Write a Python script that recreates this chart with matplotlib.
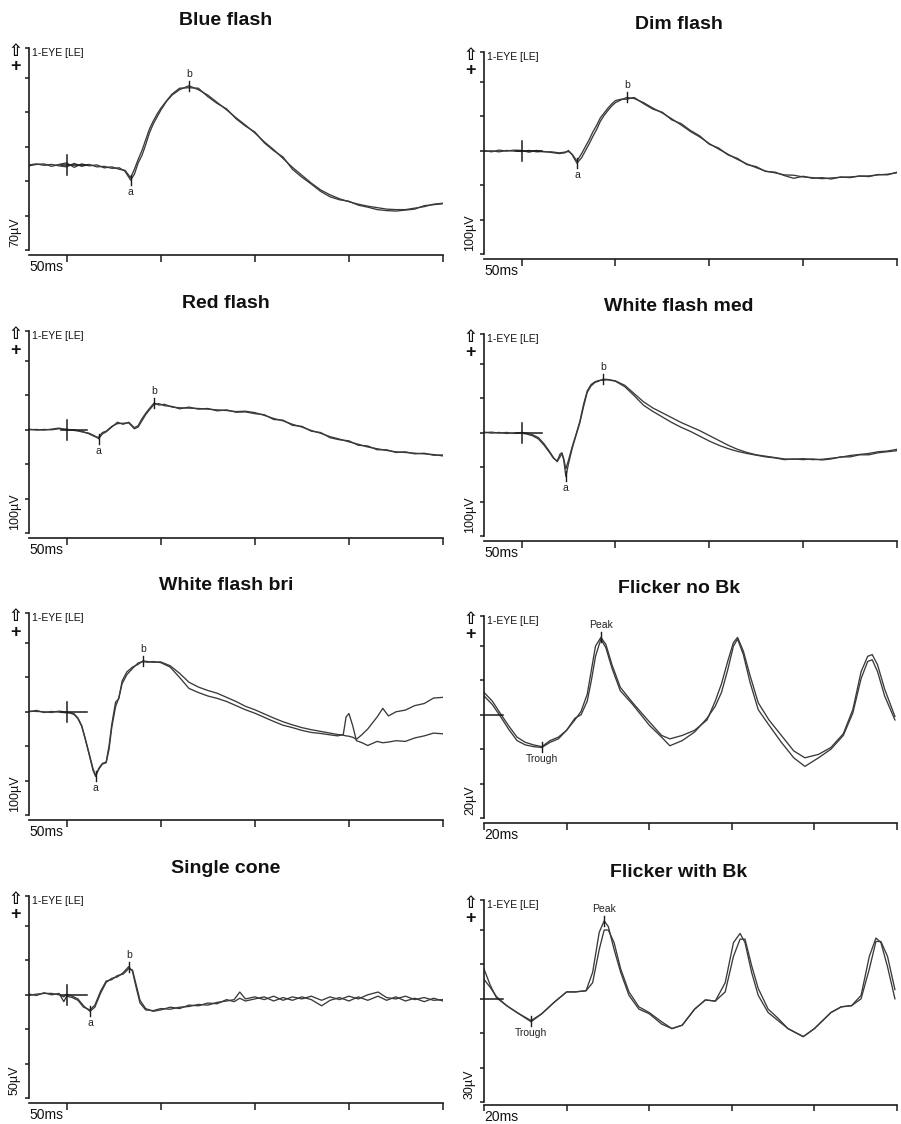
import numpy as np
import matplotlib.pyplot as plt

plt.rcParams['font.family'] = ['Liberation Sans', 'DejaVu Sans']

# ---- values (ms, uV relative to baseline) ----
blue_t = [-20, -16, -12, -8, -4, 0, 4, 8, 12, 16, 20, 24, 28, 31, 34, 36, 38, 40, 42, 44, 46, 48, 50, 53, 56,
          60, 65, 70, 75, 80, 85, 90, 95, 100, 105, 110, 115, 120, 125, 130, 135, 140, 145, 150, 155, 160, 165,
          170, 175, 180, 185, 190, 195, 200]
blue_1 = [1, 3, 0, 2, -1, -3, 4, -2, 2, -3, -2, -6, -5, -12, -30, -18, 5, 20, 42, 66, 84, 98, 112, 130, 143,
          154, 162, 154, 143, 128, 113, 97, 82, 66, 48, 32, 14, -4, -20, -36, -50, -60, -68, -74, -79, -83, -86,
          -89, -90, -90, -87, -84, -79, -77]
blue_2 = [-1, 2, 3, -2, 2, 5, -4, 3, -1, 1, -5, -3, -8, -10, -25, -8, 12, 30, 52, 74, 90, 104, 116, 131, 145,
          157, 158, 157, 140, 126, 115, 95, 80, 68, 46, 30, 17, -8, -24, -38, -53, -64, -70, -73, -81, -85, -90,
          -92, -93, -91, -89, -82, -80, -78]

dim_t = [-20, -16, -12, -8, -4, 0, 4, 8, 12, 16, 20, 23, 25, 27, 29.5, 32, 34, 36, 38, 40, 42, 44, 46, 48, 50,
         53, 56, 60, 65, 70, 75, 80, 85, 90, 95, 100, 105, 110, 115, 120, 125, 130, 135, 140, 145, 150, 155, 160,
         165, 170, 175, 180, 185, 190, 195, 200]
dim_1 = [-2, 0, -3, 1, -1, -2, 1, -3, -2, -5, -8, -6, 1, -12, -36, -20, 0, 20, 42, 62, 86, 103, 117, 130, 140,
         148, 155, 152, 140, 124, 110, 93, 75, 56, 40, 21, 5, -10, -25, -38, -49, -59, -64, -70, -71, -76, -78, -81,
         -79, -77, -76, -74, -73, -70, -68, -64]
dim_2 = [1, -3, 2, -1, 2, 1, -4, 1, -3, -3, -6, -4, -2, -10, -30, -8, 12, 32, 55, 74, 96, 110, 124, 136, 146,
         150, 150, 155, 137, 121, 112, 90, 79, 59, 43, 19, 8, -12, -22, -40, -46, -60, -62, -72, -80, -74, -80, -78,
         -82, -76, -78, -73, -75, -69, -70, -62]

red_t = [-20, -16, -12, -8, -4, 0, 4, 8, 12, 15, 17, 19, 21, 24, 27, 30, 33, 36, 38, 40, 42, 44, 46.5, 49, 52,
         56, 60, 65, 70, 75, 80, 85, 90, 95, 100, 105, 110, 115, 120, 125, 130, 135, 140, 145, 150, 155, 160, 165,
         170, 175, 180, 185, 190, 195, 200]
red_1 = [0, 1, -1, 2, 5, -1, 0, -6, -10, -18, -26, -12, -6, 8, 22, 16, 22, 6, 12, 32, 48, 62, 78, 72, 74,
         66, 64, 63, 62, 60, 58, 56, 53, 54, 50, 42, 33, 26, 16, 8, -2, -10, -20, -27, -35, -42, -50, -55,
         -60, -64, -66, -68, -70, -72, -76]
red_2 = [2, -1, 1, 0, 3, 2, -2, -4, -12, -20, -22, -8, -4, 10, 18, 19, 20, 3, 8, 26, 44, 58, 74, 76, 70,
         68, 61, 66, 60, 62, 55, 58, 51, 52, 47, 44, 30, 28, 13, 10, -4, -8, -23, -29, -32, -45, -47, -58,
         -58, -66, -64, -70, -68, -74, -73]

wmed_t = [-20, -16, -12, -8, -4, 0, 3, 6, 9, 12, 15, 17, 19, 20.5, 21.5, 22.5, 23.6, 25, 27, 29, 31, 33, 35, 37,
          39, 41, 43.5, 46, 50, 55, 60, 65, 70, 75, 80, 85, 90, 95, 100, 105, 110, 115, 120, 125, 130, 135, 140,
          145, 150, 155, 160, 165, 170, 175, 180, 185, 190, 195, 200]
wmed_1 = [0, 2, -1, 1, -2, 1, -1, -6, -14, -32, -55, -72, -84, -70, -60, -80, -127, -90, -45, -8, 28, 75, 118,
          136, 146, 150, 156, 155, 151, 138, 114, 90, 72, 58, 44, 30, 18, 6, -8, -22, -36, -48, -57, -64, -68,
          -72, -76, -77, -75, -78, -77, -74, -71, -66, -63, -60, -55, -53, -48]
wmed_2 = [2, -1, 1, -2, 0, -1, -4, -9, -18, -36, -58, -74, -82, -62, -58, -76, -105, -80, -40, -5, 32, 82, 122,
          140, 148, 152, 153, 154, 150, 134, 108, 80, 62, 46, 30, 16, 4, -10, -24, -36, -46, -54, -60, -65, -70,
          -73, -78, -76, -78, -76, -79, -76, -70, -70, -64, -64, -58, -55, -52]

wbri_t = [-20, -16, -12, -8, -4, 0, 2, 4, 6, 8, 10, 12, 14, 15.4, 17, 19, 21, 22.5, 24, 26, 27.7, 29.5, 32, 35,
          38, 40.6, 43, 46, 50, 55, 60, 65, 70, 75, 80, 85, 90, 95, 100, 105, 110, 115, 120, 125, 130, 135, 140,
          144, 147, 148.5, 150, 152, 154, 157, 160, 165, 168, 171, 175, 180, 185, 190, 195, 200]
wbri_1 = [0, 4, -2, 1, -1, -3, -4, -8, -20, -42, -82, -125, -170, -188, -165, -150, -146, -100, -36, 28, 38, 90,
          116, 130, 138, 148, 146, 144, 145, 134, 112, 86, 72, 62, 54, 42, 30, 16, 6, -6, -18, -29, -38, -46, -52,
          -57, -62, -66, -68, -70, -71, -74, -80, -66, -50, -15, 10, -12, 0, 5, 18, 24, 40, 42]
wbri_2 = [2, 1, 0, -2, 2, -1, -2, -6, -18, -40, -80, -122, -165, -185, -168, -152, -148, -110, -45, 15, 40, 82,
          108, 126, 142, 146, 144, 146, 143, 130, 100, 68, 56, 46, 39, 30, 18, 6, -4, -16, -28, -39, -46, -54, -60,
          -63, -67, -70, -66, -15, -5, -40, -84, -90, -98, -86, -90, -88, -84, -86, -76, -70, -62, -64]

fnb_t = [0, 2, 4, 6, 8, 10, 12, 14, 16, 18, 20, 22, 23.5, 25, 26, 27, 28.3, 29.5, 31, 33, 36, 40, 43, 45, 48, 51,
         54, 56, 57.5, 59, 60.4, 61.4, 62.8, 64.4, 66.4, 69, 72, 75, 77.7, 81, 84, 87, 89.3, 91.3, 92.9, 94, 95.3,
         97, 99.5]
fnb_1 = [13, 8, 0.6, -6.5, -13, -16, -17.5, -18.5, -15, -13, -9, -3, 2, 12, 26, 40, 45, 41, 29, 16, 7, -4, -12,
         -14, -12, -9, -3, 8, 18, 31, 42, 45, 37, 23, 7, -3, -12, -21, -25, -23, -19, -11, 3, 25, 34, 35, 29, 15, -1]
fnb_2 = [11, 6, -1, -8.5, -15, -17.5, -18.5, -19, -16, -14, -9, -2, 0, 8, 20, 34, 44, 39, 27, 14, 6, -6, -13,
         -18, -15, -10, -2, 5, 13, 26, 40, 44, 35, 19, 3, -6, -16, -25, -30, -25, -20, -12, 1, 21, 31, 32, 25, 11, -3]

cone_t = [-20, -16, -12, -8, -4, -1.5, 0, 3, 6, 9, 12.4, 15, 18, 21, 24, 27, 30, 33, 35, 37, 39, 42, 46, 50, 55,
          60, 65, 70, 75, 80, 85, 89, 92, 95, 100, 105, 110, 115, 120, 125, 130, 135.5, 140, 145, 150, 155, 160,
          165.5, 170, 175, 180, 185, 190, 195, 200]
cone_1 = [-1, 1, 2, 2, 0, -3, 1, -2, -6, -16, -24, -18, 2, 18, 24, 26, 32, 41, 34, 10, -12, -22, -23, -20, -21,
          -18, -17, -14, -15, -11, -9, -7, 4, -6, -3, -7, -2, -8, -3, -6, -2, -8, -3, -7, -2, -6, 0, 4, -4, -6,
          -2, -7, -4, -8, -7]
cone_2 = [1, -1, 3, 0, 2, -10, -2, -4, -8, -18, -22, -15, 5, 20, 22, 28, 30, 38, 36, 14, -8, -20, -24, -22, -18,
          -20, -15, -16, -12, -13, -7, -10, -5, -9, -6, -3, -9, -4, -8, -3, -7, -16, -8, -4, -9, -3, -8, -2, -8,
          -3, -9, -5, -10, -5, -9]

fwb_t = [0, 1.5, 3, 5.5, 8, 11.4, 14, 17, 20, 22, 24.7, 26.3, 27.9, 29.1, 30.1, 31.5, 33.1, 35.1, 37.5, 40, 43,
         45.5, 48, 51, 53.6, 56, 58.4, 60.4, 62, 63.2, 64.8, 66.4, 68.8, 71.2, 73.6, 77.3, 80, 84, 86.5, 89, 91.3,
         93.3, 94.9, 96.1, 97.7, 99.5]
fwb_1 = [17, 10, 2, -6, -12, -19, -13, -3, 6, 6, 7, 23, 58, 68, 63, 43, 23, 3, -9, -13, -22, -26, -23, -9, -1,
         -2, 14, 49, 57, 49, 23, 3, -12, -19, -26, -33, -26, -12, -7, -6, 3, 37, 53, 49, 28, 0]
fwb_2 = [26, 12, 1, -6, -12, -20, -13, -3, 6, 6, 7, 14, 43, 60, 60, 49, 26, 6, -7, -12, -20, -26, -23, -9, -1,
         -2, 6, 37, 52, 52, 29, 9, -9, -17, -26, -33, -26, -12, -7, -6, 0, 26, 50, 50, 37, 8]

titles = ['Blue flash', 'Dim flash', 'Red flash', 'White flash med',
          'White flash bri', 'Flicker no Bk', 'Single cone', 'Flicker with Bk']
scales = [70, 100, 100, 100, 100, 20, 50, 30]          # uV per division
time_units = [50, 50, 50, 50, 50, 20, 50, 20]          # ms per division
marks = [[('a', 34), ('b', 65)], [('a', 29.5), ('b', 56)], [('a', 17), ('b', 46.5)],
         [('a', 23.6), ('b', 43.5)], [('a', 15.4), ('b', 40.6)], [('Trough', 14), ('Peak', 28.3)],
         [('a', 12.4), ('b', 33)], [('Trough', 11.4), ('Peak', 29.1)]]
traces = [(blue_t, blue_1, blue_2), (dim_t, dim_1, dim_2), (red_t, red_1, red_2), (wmed_t, wmed_1, wmed_2),
          (wbri_t, wbri_1, wbri_2), (fnb_t, fnb_1, fnb_2), (cone_t, cone_1, cone_2), (fwb_t, fwb_1, fwb_2)]

# ---- layout (pixels of the 901x1124 page) ----
W, H = 901, 1124
DIV = 34.4       # px per vertical division
AXH = 202        # px height of the y bracket
lefts = [29, 484] * 4
bottoms = [250, 254, 533, 536, 815, 818, 1098, 1102]
bases = [2.46, 3, 3, 3, 3, 3, 3, 3]    # baseline, divisions above the bottom tick
INK = '#3a3a3a'
AXC = '#1c1c1c'

fig = plt.figure(figsize=(W / 100, H / 100), dpi=100)
fig.patch.set_facecolor('white')


def fx(px):
    return px / W


def fy(py):
    return 1 - py / H


for i in range(8):
    t, v1, v2 = traces[i]
    assert len(t) == len(v1) == len(v2), titles[i]
    left, bottom, sc = lefts[i], bottoms[i], scales[i]
    flicker = time_units[i] == 20
    width = 414 if left < 300 else 413
    ax = fig.add_axes([fx(left), fy(bottom), width / W, AXH / H])
    y0 = -bases[i] * sc
    y1 = y0 + AXH / DIV * sc
    ax.set_ylim(y0, y1)
    if flicker:
        ax.set_xlim(0, 100)
        ax.set_xticks(np.arange(0, 101, 20))
    else:
        ax.set_xlim(-20, 200)
        ax.set_xticks(np.arange(0, 201, 50))
    uv_px = sc / DIV
    ax.set_yticks([y0 + k * sc for k in range(6)] + [y1])
    ax.set_xticklabels([])
    ax.set_yticklabels([])
    ax.tick_params(axis='y', direction='out', length=3, width=1.1, color=AXC)
    ax.tick_params(axis='x', direction='out', length=5 if bottom < 1100 else 4, width=1.1, color=AXC)
    for s in ['top', 'right']:
        ax.spines[s].set_visible(False)
    for s in ['left', 'bottom']:
        ax.spines[s].set_linewidth(1.2)
        ax.spines[s].set_color(AXC)
    ax.spines['bottom'].set_position(('outward', 3.5 if bottom < 1100 else 2.5))
    ax.patch.set_alpha(0)

    ax.plot(t, v2, color=INK, lw=0.95)
    ax.plot(t, v1, color=INK, lw=0.95)

    # stimulus / baseline cross
    if flicker:
        ax.plot([0, 4.5], [0, 0], color=AXC, lw=1.1)
    else:
        ax.plot([0, 0], [-10 * uv_px, 10 * uv_px], color=AXC, lw=1.1)
        ax.plot([-3, 11], [0, 0], color=AXC, lw=1.1)

    # a / b or trough / peak markers
    for k, (lab, tm) in enumerate(marks[i]):
        yv = v1[t.index(tm)]
        ax.plot([tm, tm], [yv - 5 * uv_px, yv + 5 * uv_px], color=AXC, lw=1.0)
        off = -12 if k == 0 else 12
        ax.text(tm, yv + off * uv_px, lab, ha='center', va='center', fontsize=7.5, color='#222222')

    # page texts
    cx = 226 if left < 300 else 679
    fig.text(fx(cx), fy(bottom - 225), titles[i], ha='center', va='baseline',
             fontsize=14, fontweight='bold', color='#111111')
    fig.text(fx(left), fy(min(bottom + 21, 1121)), '%dms' % time_units[i], ha='left', va='baseline',
             fontsize=10, color='#111111')
    fig.text(fx(left - 14), fy(bottom - 3), '%dµV' % sc, rotation=90, ha='center', va='bottom',
             fontsize=9, color='#111111')
    fig.text(fx(left + 3), fy(bottom - 194), '1-EYE [LE]', ha='left', va='baseline',
             fontsize=7.5, color='#111111')
    fig.text(fx(left - 14), fy(bottom - 199), '⇧', ha='center', va='center',
             fontsize=12, fontweight='bold', family='DejaVu Sans', color='#111111')
    fig.text(fx(left - 14), fy(bottom - 183), '+', ha='center', va='center',
             fontsize=13, fontweight='bold', color='#111111')

fig.savefig('out.png', dpi=100, facecolor='white')
